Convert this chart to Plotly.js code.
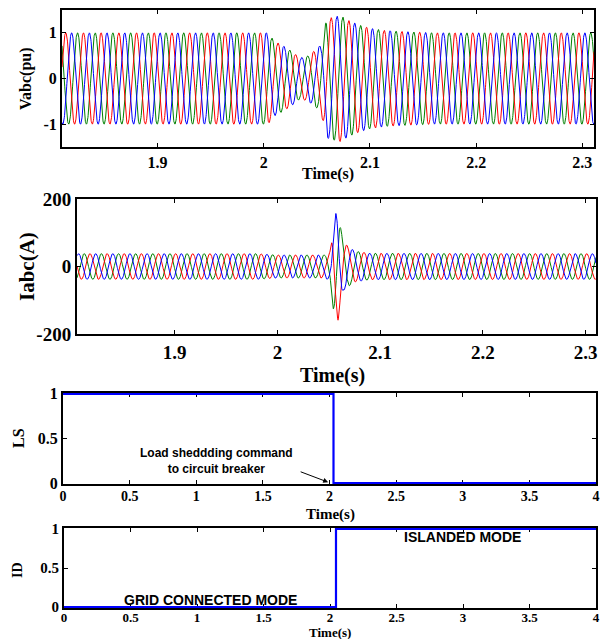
<!DOCTYPE html>
<html>
<head>
<meta charset="utf-8">
<script src="https://cdn.plot.ly/plotly-3.0.1.min.js"></script>
<style>html,body{margin:0;padding:0;background:#fff;}#chart{width:611px;height:639px;}</style>
</head>
<body>
<div id="chart"></div>
<script>
// ---- data ----
const gridFreqHz = 60;                 // counted: 6 cycles per 0.1 s
// voltage envelope (pu), read at key instants
const vEnvTime = [1.81, 2.004, 2.010, 2.018, 2.026, 2.034, 2.042, 2.050, 2.054, 2.059, 2.066, 2.072, 2.080, 2.090, 2.100, 2.115, 2.130, 2.160, 2.31];
const vEnvAmp  = [1.00, 1.00, 0.82, 0.72, 0.60, 0.45, 0.50, 0.65, 0.75, 1.30, 1.35, 1.38, 1.27, 1.17, 1.10, 1.05, 1.03, 1.00, 1.00];
const vRedPeakTime = 1.8135;           // instant of a red-phase peak
// current envelope (A)
const iEnvTime = [1.805, 1.980, 2.000, 2.046, 2.051, 2.054, 2.057, 2.059, 2.061, 2.064, 2.068, 2.075, 2.090, 2.31];
const iEnvAmp  = [38, 38, 34, 34, 42, 125, 160, 160, 125, 72, 62, 46, 39, 38];
const iBluePeakTime = 2.0565;          // instant of the blue-phase spike
// mode signals
const lsTime = [0, 2.03, 2.03, 4];
const lsValue = [1, 1, 0, 0];
const idTime = [0, 2.045, 2.045, 4];
const idValue = [0, 0, 1, 1];
// ticks
const wTicks = [1.9, 2, 2.1, 2.2, 2.3];
const wTickText = ['1.9', '2', '2.1', '2.2', '2.3'];
const vTicks = [-1, 0, 1];
const vTickText = ['-1', '0', '1'];
const iTicks = [-200, 0, 200];
const iTickText = ['-200', '0', '200'];
const sTicksX = [0, 0.5, 1, 1.5, 2, 2.5, 3, 3.5, 4];
const sTickTextX = ['0', '0.5', '1', '1.5', '2', '2.5', '3', '3.5', '4'];
const sTicksY = [0, 0.5, 1];
const sTickTextY = ['0', '0.5', '1'];
const phaseColors = {red: '#ff0000', blue: '#0000ff', green: '#008000'};

// ---- build three-phase traces from the envelopes ----
function envAt(T, A, t) {
  if (t <= T[0]) return A[0];
  for (let k = 1; k < T.length; k++) {
    if (t <= T[k]) { const f = (t - T[k-1]) / (T[k] - T[k-1]); return A[k-1] + f * (A[k] - A[k-1]); }
  }
  return A[A.length - 1];
}
function threePhase(T, A, redPeak, t0, t1, xa, ya) {
  const P = 1 / gridFreqHz, dt = 0.0002;
  const lags = {red: 0, blue: P / 3, green: 2 * P / 3};
  const out = [];
  ['green', 'red', 'blue'].forEach(c => {
    const xs = [], ys = [];
    for (let t = t0; t <= t1 + 1e-9; t += dt) {
      xs.push(t);
      ys.push(envAt(T, A, t) * Math.cos(2 * Math.PI * gridFreqHz * (t - redPeak - lags[c])));
    }
    out.push({x: xs, y: ys, type: 'scatter', mode: 'lines', xaxis: xa, yaxis: ya,
              line: {color: phaseColors[c], width: 1}, hoverinfo: 'skip'});
  });
  return out;
}
const P = 1 / gridFreqHz;
const traces = [].concat(
  threePhase(vEnvTime, vEnvAmp, vRedPeakTime, 1.81, 2.311, 'x', 'y'),
  threePhase(iEnvTime, iEnvAmp, iBluePeakTime - P / 3, 1.805, 2.31, 'x2', 'y2'),
  [{x: lsTime, y: lsValue, type: 'scatter', mode: 'lines', xaxis: 'x3', yaxis: 'y3', line: {color: '#0000ff', width: 2.2}},
   {x: idTime, y: idValue, type: 'scatter', mode: 'lines', xaxis: 'x4', yaxis: 'y4', line: {color: '#0000ff', width: 2.2}}]
);

const serif = 'Liberation Serif, Times New Roman, serif';
function ax(domain, range, ticks, text, fs, anchor, extra) {
  return Object.assign({domain: domain, range: range, tickvals: ticks, ticktext: text, anchor: anchor,
    ticks: 'inside', ticklen: 4, tickwidth: 1, tickcolor: '#000', mirror: 'ticks',
    showline: true, linecolor: '#000', linewidth: 2, showgrid: false, zeroline: false,
    tickfont: {family: serif, size: fs, color: '#000', weight: 'bold'}, fixedrange: true}, extra || {});
}
const W = 611, H = 639;
const xd = (a, b) => [a / W, b / W];
const yd = (top, bot) => [1 - bot / H, 1 - top / H];
const below = {layer: 'below traces'};

const layout = {
  width: W, height: H, margin: {l: 0, r: 0, t: 0, b: 0},
  paper_bgcolor: '#fff', plot_bgcolor: '#fff', showlegend: false,
  xaxis:  ax(xd(62, 594), [1.81, 2.311], wTicks, wTickText, 16, 'y'),
  yaxis:  ax(yd(10, 147), [-1.5, 1.5], vTicks, vTickText, 16, 'x'),
  xaxis2: ax(xd(77, 596), [1.805, 2.31], wTicks, wTickText, 19, 'y2'),
  yaxis2: ax(yd(199, 334), [-200, 200], iTicks, iTickText, 19, 'x2'),
  xaxis3: ax(xd(63, 596), [0, 4], sTicksX, sTickTextX, 14, 'y3', Object.assign({ticklabelstandoff: -2}, below)),
  yaxis3: ax(yd(393, 484), [-0.01, 1.01], sTicksY, sTickTextY, 16, 'x3', below),
  xaxis4: ax(xd(64, 596), [0, 4], sTicksX, sTickTextX, 13, 'y4', Object.assign({ticklabelstandoff: -4}, below)),
  yaxis4: ax(yd(528, 608), [-0.012, 1.012], sTicksY, sTickTextY, 15, 'x4', below),
  annotations: [
    {text: 'Vabc(pu)', x: 26 / W, y: 1 - 79 / H, textangle: -90, fs: 16},
    {text: 'Time(s)', x: 328 / W, y: 1 - 174 / H, fs: 16},
    {text: 'Iabc(A)', x: 27 / W, y: 1 - 267 / H, textangle: -90, fs: 21},
    {text: 'Time(s)', x: 332 / W, y: 1 - 375 / H, fs: 20},
    {text: 'LS', x: 18 / W, y: 1 - 438 / H, textangle: -90, fs: 16},
    {text: 'Time(s)', x: 330 / W, y: 1 - 514 / H, fs: 15},
    {text: 'ID', x: 17 / W, y: 1 - 570 / H, textangle: -90, fs: 14},
    {text: 'Time(s)', x: 330 / W, y: 1 - 632 / H, fs: 13}
  ].map(a => ({text: a.text, x: a.x, y: a.y, xref: 'paper', yref: 'paper', showarrow: false,
      textangle: a.textangle || 0, xanchor: 'center', yanchor: 'middle',
      font: {family: serif, size: a.fs || 16, color: '#000', weight: 'bold'}})).concat([
    {text: 'Load sheddding command<br>to circuit breaker', x: 216 / W, y: 1 - 461 / H, xref: 'paper', yref: 'paper',
     showarrow: false, xanchor: 'center', yanchor: 'middle', align: 'center',
     font: {family: 'Liberation Sans, Arial, sans-serif', size: 12, color: '#000', weight: 'bold'}},
    {text: '', x: 1.99, y: 0.01, xref: 'x3', yref: 'y3', ax: -29, ay: -11, showarrow: true,
     arrowhead: 2, arrowsize: 1, arrowwidth: 1, arrowcolor: '#000', standoff: 0},
    {text: 'ISLANDED MODE', x: 462 / W, y: 1 - 537 / H, xref: 'paper', yref: 'paper', showarrow: false,
     xanchor: 'center', yanchor: 'middle', font: {family: 'Liberation Sans, Arial, sans-serif', size: 14, color: '#000', weight: 'bold'}},
    {text: 'GRID CONNECTED MODE', x: 210 / W, y: 1 - 600 / H, xref: 'paper', yref: 'paper', showarrow: false,
     xanchor: 'center', yanchor: 'middle', font: {family: 'Liberation Sans, Arial, sans-serif', size: 14, color: '#000', weight: 'bold'}}
  ])
};
Plotly.newPlot('chart', traces, layout, {staticPlot: true, displayModeBar: false});
</script>
</body>
</html>
